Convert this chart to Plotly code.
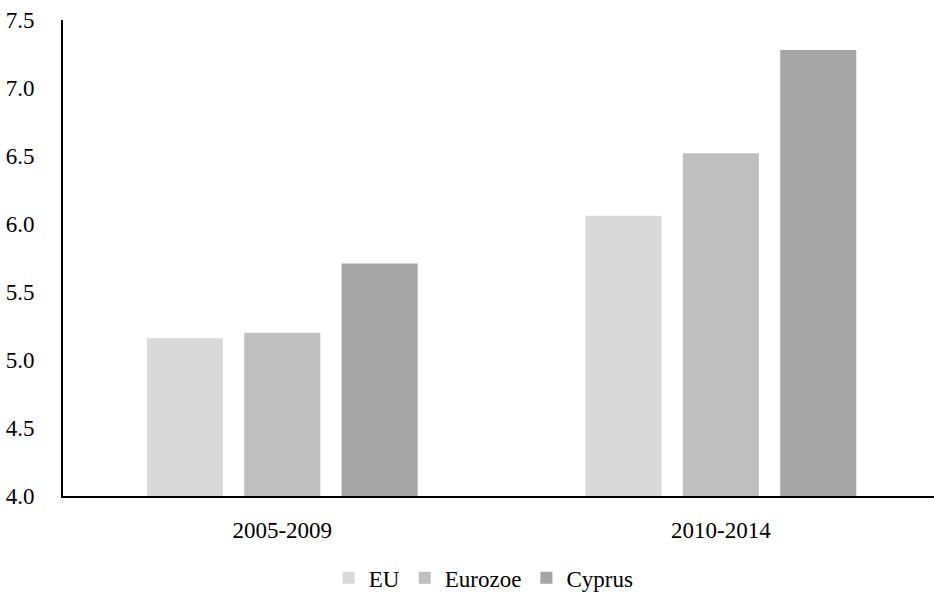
import plotly.graph_objects as go

periods = ["2005-2009", "2010-2014"]
eu = [5.16, 6.06]
eurozone = [5.20, 6.52]
cyprus = [5.71, 7.28]

series_names = ["EU", "Eurozoe", "Cyprus"]
series_values = [eu, eurozone, cyprus]
series_colors = ["#d9d9d9", "#bfbfbf", "#a5a5a5"]

y_ticks = [4.0, 4.5, 5.0, 5.5, 6.0, 6.5, 7.0, 7.5]

FONT = "Liberation Serif"

fig = go.Figure()
for name, vals, col in zip(series_names, series_values, series_colors):
    fig.add_trace(go.Bar(
        x=periods, y=vals, name=name,
        marker=dict(color=col, line=dict(width=0)),
    ))

fig.update_layout(
    width=934, height=597,
    margin=dict(l=63, r=0, t=20, b=101, autoexpand=False),
    paper_bgcolor="white", plot_bgcolor="white",
    barmode="group", bargap=0.334, bargroupgap=0.219,
    font=dict(family=FONT, size=23, color="#000000"),
    showlegend=True,
    legend=dict(orientation="h", x=0.483, xanchor="center", y=-0.172, yanchor="middle",
                font=dict(size=23), itemwidth=30, tracegroupgap=0),
    xaxis=dict(
        type="category", range=[-0.5, 1.486],
        showline=True, linecolor="#000000", linewidth=2,
        showgrid=False, ticks="", ticklabelstandoff=12,
    ),
    yaxis=dict(
        range=[4.0, 7.5], tickvals=y_ticks,
        ticktext=[f"{v:.1f}" for v in y_ticks],
        showline=True, linecolor="#000000", linewidth=2,
        showgrid=False, zeroline=False, ticks="", ticklabelstandoff=22,
    ),
)

fig.write_html("out.html")
